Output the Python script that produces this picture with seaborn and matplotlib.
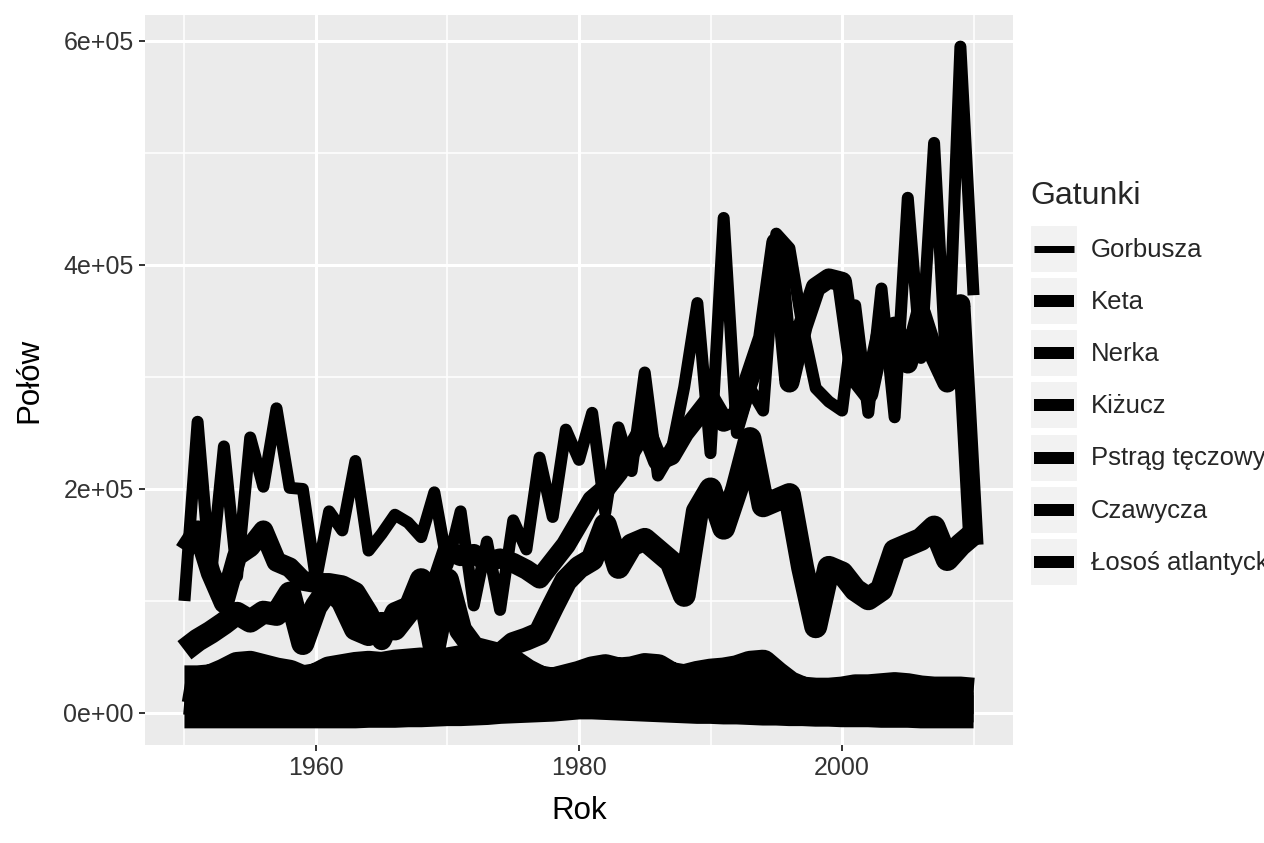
import matplotlib
matplotlib.use("Agg")
import matplotlib.pyplot as plt
import numpy as np
import pandas as pd
import seaborn as sns
from matplotlib.legend_handler import HandlerBase
from matplotlib.lines import Line2D
from matplotlib.patches import Rectangle
from matplotlib.ticker import FixedLocator, FixedFormatter

# ---------------- data (catch, thousands) ----------------
years = list(range(1950, 2011))

gorbusza = [100, 260, 120, 238, 122, 246, 202, 272, 201, 200,
            119, 180, 163, 225, 145, 160, 177, 170, 157, 197,
            132, 180, 96, 153, 92, 172, 146, 228, 175, 253,
            226, 268, 179, 255, 216, 304, 212, 232, 291, 366,
            232, 442, 250, 290, 270, 428, 415, 345, 290, 278,
            270, 364, 268, 379, 264, 460, 317, 509, 292, 595, 373]
keta = [145, 163, 125, 98, 140, 148, 163, 135, 130, 118,
        116, 116, 114, 108, 89, 65, 90, 95, 100, 110,
        145, 140, 142, 135, 138, 134, 128, 120, 135, 150,
        170, 190, 200, 215, 235, 255, 225, 230, 250, 265,
        280, 260, 265, 300, 335, 420, 295, 345, 380, 388,
        385, 300, 285, 340, 345, 312, 357, 320, 295, 365, 150]
nerka = [56, 65, 72, 80, 89, 82, 90, 88, 107, 62,
         95, 112, 100, 75, 70, 80, 75, 90, 119, 59,
         119, 74, 58, 55, 52, 62, 66, 71, 95, 118,
         130, 137, 168, 130, 150, 155, 145, 135, 105, 180,
         200, 165, 200, 245, 185, 190, 195, 130, 77, 130,
         125, 110, 102, 110, 145, 150, 155, 166, 137, 150, 160]
kizucz = [30, 30, 31, 36, 42, 43, 40, 37, 35, 30,
          32, 38, 40, 42, 43, 42, 44, 45, 46, 44,
          46, 48, 50, 49, 46, 44, 36, 30, 28, 31,
          34, 38, 40, 37, 38, 41, 40, 33, 31, 34,
          36, 37, 39, 43, 44, 34, 25, 20, 19, 19,
          20, 22, 22, 23, 24, 23, 21, 20, 20, 20, 19]
pstrag = [12, 11, 12, 13, 12, 11, 12, 11, 10, 10,
          10, 11, 12, 12, 11, 11, 12, 12, 13, 13,
          14, 14, 15, 15, 16, 16, 17, 17, 16, 16,
          17, 18, 17, 16, 16, 15, 15, 14, 14, 13,
          13, 12, 12, 11, 10, 9, 8, 8, 7, 7,
          7, 7, 6, 6, 6, 6, 5, 5, 5, 5, 5]
czawycza = [24, 22, 23, 22, 21, 20, 21, 20, 19, 19,
            19, 20, 21, 21, 22, 22, 23, 23, 24, 24,
            25, 25, 26, 26, 25, 25, 25, 26, 27, 28,
            28, 27, 27, 26, 27, 27, 28, 27, 26, 25,
            25, 24, 24, 23, 22, 21, 20, 18, 15, 15,
            16, 16, 17, 17, 18, 17, 16, 15, 14, 13, 13]
losos = [1, 1, 1, 1, 1, 1, 1, 1, 1, 1,
         1, 1, 1, 1, 1.5, 1.5, 1.5, 2, 2, 2.5,
         3, 3, 3.5, 4, 5, 5.5, 6, 6.5, 7, 8,
         9, 9, 8.5, 8, 7.5, 7, 6.5, 6, 5.5, 5,
         5, 4.5, 4.5, 4, 3.5, 3.5, 3, 3, 2.5, 2.5,
         2, 2, 2, 1.5, 1.5, 1.5, 1, 1, 1, 1, 1]

species = ["Gorbusza", "Keta", "Nerka", "Kiżucz", "Pstrąg tęczowy",
           "Czawycza", "Łosoś atlantycki"]
series = [gorbusza, keta, nerka, kizucz, pstrag, czawycza, losos]

x_ticks = [1960, 1980, 2000]
x_tick_labels = ["1960", "1980", "2000"]
y_ticks = [0, 200000, 400000, 600000]
y_tick_labels = ["0e+00", "2e+05", "4e+05", "6e+05"]

rows = []
for sp, vals in zip(species, series):
    for yr, v in zip(years, vals):
        rows.append((yr, v * 1000.0, sp))
df = pd.DataFrame(rows, columns=["Rok", "Połów", "Gatunki"])

# ---------------- style ----------------
sns.set_theme(style="darkgrid", rc={"axes.facecolor": "#EBEBEB",
                                    "grid.color": "white"})
plt.rcParams["font.family"] = ["Liberation Sans", "DejaVu Sans"]

PX = 72.0 / 100.0  # points per pixel at dpi 100
widths_px = [12, 20, 23, 28, 30, 31, 33]
sizes = {sp: w * PX for sp, w in zip(species, widths_px)}
palette = {sp: "black" for sp in species}

fig = plt.figure(figsize=(12.64, 8.43), dpi=100)
ax = fig.add_axes([145 / 1264, 1 - 745 / 843, 868 / 1264, 730 / 843])

sns.lineplot(data=df, x="Rok", y="Połów", hue="Gatunki", size="Gatunki",
             hue_order=species, size_order=species, palette=palette,
             sizes=sizes, estimator=None, sort=False, legend=False, ax=ax)
for ln in ax.lines:
    ln.set_solid_joinstyle("round")
    ln.set_solid_capstyle("butt")

ax.set_xlim(1947, 2013)
ax.set_ylim(-28600, 623200)

ax.xaxis.set_major_locator(FixedLocator(x_ticks))
ax.xaxis.set_major_formatter(FixedFormatter(x_tick_labels))
ax.yaxis.set_major_locator(FixedLocator(y_ticks))
ax.yaxis.set_major_formatter(FixedFormatter(y_tick_labels))
ax.xaxis.set_minor_locator(FixedLocator([1950, 1970, 1990, 2010]))
ax.yaxis.set_minor_locator(FixedLocator([100000, 300000, 500000]))
ax.grid(which="major", color="white", linewidth=2.2)
ax.grid(which="minor", color="white", linewidth=1.1)
ax.set_axisbelow(True)
for s in ax.spines.values():
    s.set_visible(False)

ax.tick_params(which="major", length=4.5, width=1.4, color="#333333",
               labelsize=18, labelcolor="#333333", pad=3.5,
               bottom=True, left=True)
ax.tick_params(which="minor", length=0)

ax.set_xlabel("Rok", fontsize=22.5, color="black", labelpad=11.5)
ax.set_ylabel("Połów", fontsize=22.5, color="black", labelpad=14)


# ---------------- legend ----------------
class KeyHandler(HandlerBase):
    def create_artists(self, legend, orig_handle, xdescent, ydescent,
                       width, height, fontsize, trans):
        bg = Rectangle((-xdescent, -ydescent), width, height,
                       facecolor="#F2F2F2", edgecolor="white", lw=1.5,
                       transform=trans)
        yc = -ydescent + height / 2
        ln = Line2D([-xdescent + 0.08 * width, -xdescent + 0.92 * width],
                    [yc, yc], color="black",
                    lw=orig_handle.get_linewidth(),
                    solid_capstyle="butt", transform=trans)
        return [bg, ln]


key_px = [7, 12, 12, 12, 12, 12, 12]
handles = [Line2D([], [], color="black", lw=k * PX) for k in key_px]
leg = fig.legend(handles, species, handler_map={Line2D: KeyHandler()},
                 loc="upper left", bbox_to_anchor=(1030 / 1264, 1 - 181 / 843),
                 frameon=False, title="Gatunki", title_fontsize=23,
                 fontsize=18.5, handlelength=1.87, handleheight=2.5,
                 labelspacing=0.16, handletextpad=0.5, borderpad=0,
                 borderaxespad=0, alignment="left")
leg._legend_box.sep = 10

fig.savefig("out.png", dpi=100)
